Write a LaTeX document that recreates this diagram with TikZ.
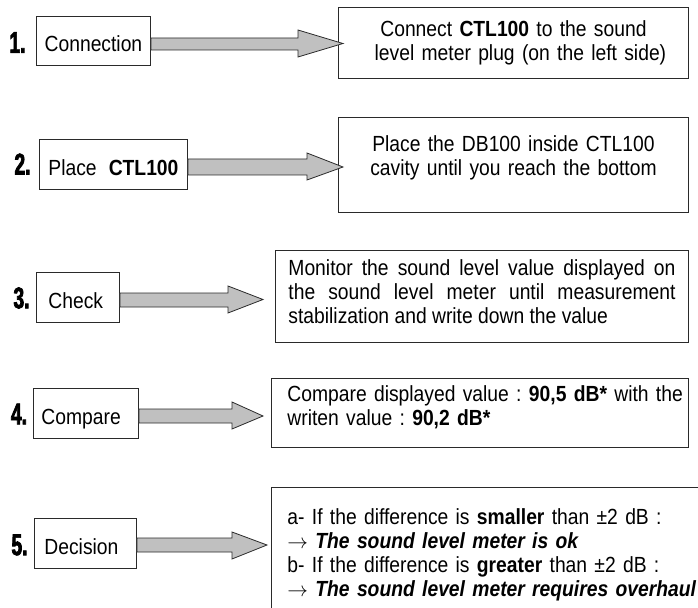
\documentclass[tikz,border=0pt]{standalone}
\usepackage{fontspec}
\setmainfont{Liberation Sans}[FakeStretch=0.88,
  UprightFeatures={FakeStretch=0.88}, BoldFeatures={FakeStretch=0.88},
  ItalicFeatures={FakeStretch=0.88}, BoldItalicFeatures={FakeStretch=0.88}]
\newfontfamily\numfont{Liberation Sans}[FakeStretch=0.64, FakeBold=2.4,
  BoldFeatures={FakeStretch=0.64, FakeBold=2.4}]
\usetikzlibrary{calc}
\definecolor{arrowfill}{HTML}{C0C0C0}
\definecolor{edgecol}{HTML}{2A2A2A}
\newcommand{\thinarrow}{{\fontsize{20}{20}\selectfont\ensuremath{\rightarrow}}}
\frenchspacing
\begin{document}
\begin{tikzpicture}[x=1bp,y=-1bp,
  every node/.style={font=\fontsize{22}{24}\selectfont\frenchspacing, text=black},
  leftbox/.style={draw=edgecol, line width=0.9bp, anchor=north west, inner ysep=0pt,
    minimum height=50bp, text height=25bp, text depth=3bp},
  rightbox/.style={draw=edgecol, line width=0.9bp, anchor=north west, inner ysep=0pt},
  numlab/.style={font=\numfont\bfseries\fontsize{30}{30}\selectfont, inner sep=0pt},
  barrow/.style={fill=arrowfill, draw=edgecol, line width=0.8bp, line join=miter}]
\useasboundingbox (0,0) rectangle (698,608);
\begin{scope}
\clip (0,0) rectangle (698,608);

% left boxes
\node[leftbox, text width=98bp, inner xsep=8bp, minimum height=49bp, align=center] (l1) at (36,16) {Connection};
\node[leftbox, text width=144bp, inner xsep=2bp, align=center] (l2) at (39,139) {\mbox{Place\hspace{0.55em}\textbf{CTL100}}};
\node[leftbox, text width=59bp, inner xsep=12bp, align=left] (l3) at (36,272) {Check};
\node[leftbox, text width=89bp, inner xsep=8bp, align=left] (l4) at (33,388) {Compare};
\node[leftbox, text width=82bp, inner xsep=10bp, align=left] (l5) at (34,518) {Decision};

% right boxes
\node[rightbox, text width=330bp, inner xsep=10bp, minimum height=71bp, align=center] (r1) at (338,7)
  {Connect \textbf{CTL100} to the sound\\\hspace*{14bp}level meter plug (on the left side)};
\node[rightbox, text width=330bp, inner xsep=10bp, minimum height=95bp, align=center] (r2) at (338,117)
  {Place the DB100 inside CTL100\\cavity until you reach the bottom\rule[-19bp]{0pt}{19bp}};
\node[rightbox, text width=387bp, inner xsep=13bp, minimum height=92bp, align=justify] (r3) at (275,250)
  {Monitor the sound level value displayed on\linebreak the sound level meter until measurement\linebreak stabilization and write down the value\rule[-10bp]{0pt}{10bp}};
\node[rightbox, text width=385bp, inner xsep=16bp, minimum height=69bp, align=left] (r4) at (271,378)
  {\mbox{Compare displayed value : \textbf{90,5 dB*} with the}\\\mbox{writen value : \textbf{90,2 dB*}}\rule[-14bp]{0pt}{14bp}};
\node[rightbox, text width=420bp, inner xsep=16bp, inner ysep=21bp, align=left] (r5) at (271,487)
  {\mbox{a- If the difference is \textbf{smaller} than ±2 dB :}\\
   \mbox{\thinarrow\ \textbf{\textit{The sound level meter is ok}}}\\
   \mbox{b- If the difference is \textbf{greater} than ±2 dB :}\\
   \mbox{\thinarrow\ \textbf{\textit{The sound level meter requires overhaul}}}};

% block arrows
\coordinate (t1) at (343,43.5);
\coordinate (t2) at (343,167);
\coordinate (t3) at (263,299.5);
\coordinate (t4) at (263,416);
\coordinate (t5) at (267,545);
\draw[barrow] (l1.east |- 0,38) -- (298,38) -- (298,30) -- (t1) -- (298,57) -- (298,50) -- (l1.east |- 0,50) -- cycle;
\draw[barrow] (l2.east |- 0,159) -- (307,159) -- (307,153) -- (t2) -- (307,180) -- (307,175) -- (l2.east |- 0,175) -- cycle;
\draw[barrow] (l3.east |- 0,293) -- (228,293) -- (228,286) -- (t3) -- (228,313) -- (228,307) -- (l3.east |- 0,307) -- cycle;
\draw[barrow] (l4.east |- 0,409) -- (232,409) -- (232,402) -- (t4) -- (232,429) -- (232,423) -- (l4.east |- 0,423) -- cycle;
\draw[barrow] (l5.east |- 0,538) -- (232,538) -- (232,532) -- (t5) -- (232,559) -- (232,552) -- (l5.east |- 0,552) -- cycle;

% step numbers
\node[numlab] (n1) at (17.5,42.5) {1.};
\node[numlab] (n2) at (22.5,164) {2.};
\node[numlab] (n3) at (21.5,298) {3.};
\node[numlab] (n4) at (19,414) {4.};
\node[numlab] (n5) at (19.5,545) {5.};
\end{scope}
\end{tikzpicture}
\end{document}
